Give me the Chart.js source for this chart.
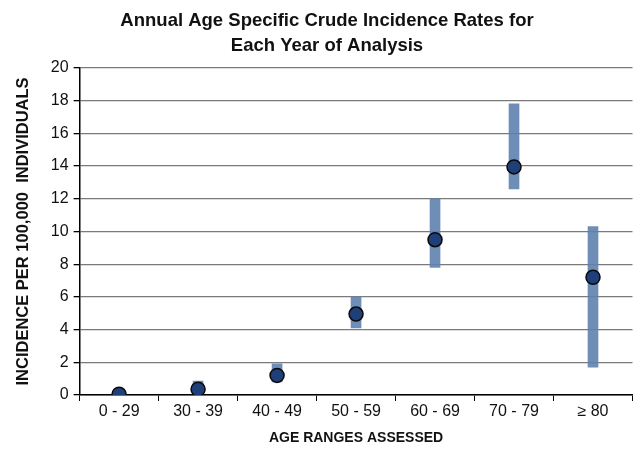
<!DOCTYPE html>
<html>
<head>
<meta charset="utf-8">
<script src="https://cdn.jsdelivr.net/npm/chart.js@4"></script>
<style>
  html, body { margin: 0; padding: 0; background: #fff; }
  #wrap { width: 641px; height: 450px; }
</style>
</head>
<body>
<div id="wrap"><canvas id="rateChart" width="641" height="450"></canvas></div>
<script>
// age groups and rates (per 100,000)
const ageLabels = ['0 - 29', '30 - 39', '40 - 49', '50 - 59', '60 - 69', '70 - 79', '\u2265 80'];
const crudeRate = [0.05, 0.35, 1.2, 4.95, 9.5, 13.95, 7.2];
const rangeLow  = [0.0, 0.1, 0.8, 4.1, 7.8, 12.6, 1.7];
const rangeHigh = [0.1, 0.85, 1.9, 6.0, 12.0, 17.8, 10.3];
const yTicks = [0, 2, 4, 6, 8, 10, 12, 14, 16, 18, 20];

window.addEventListener('DOMContentLoaded', () => {
  const ctx = document.getElementById('rateChart').getContext('2d');
  const font = 'Liberation Sans, Arial, sans-serif';

  new Chart(ctx, {
    type: 'bar',
    data: {
      labels: ageLabels,
      datasets: [
        {
          type: 'line',
          label: 'Crude rate',
          data: crudeRate,
          showLine: false,
          pointRadius: 7,
          pointHoverRadius: 7,
          pointBackgroundColor: '#1f3f78',
          pointBorderColor: '#0a0a0a',
          pointBorderWidth: 1.5,
          order: 0
        },
        {
          label: 'Range',
          data: rangeLow.map((lo, i) => [lo, rangeHigh[i]]),
          backgroundColor: 'rgba(95,130,175,0.9)',
          barThickness: 10,
          order: 1
        }
      ]
    },
    options: {
      responsive: false,
      animation: false,
      layout: { padding: { left: 14, right: 1, top: 0, bottom: 0 } },
      plugins: {
        legend: { display: false },
        tooltip: { enabled: false },
        title: {
          display: true,
          text: ['Annual Age Specific Crude Incidence Rates for', 'Each Year of Analysis'],
          color: '#111',
          font: { family: font, size: 18.5, weight: 'bold', lineHeight: 1.35 },
          padding: { top: 8, bottom: 10 }
        }
      },
      scales: {
        x: {
          grid: { display: true, drawOnChartArea: false, color: '#000', tickLength: 6, tickColor: '#000' },
          border: { color: '#000', width: 1.5 },
          ticks: { color: '#111', font: { family: font, size: 16 }, padding: 1 },
          title: {
            display: true,
            text: 'AGE RANGES ASSESSED',
            color: '#111',
            font: { family: font, size: 14, weight: 'bold' },
            padding: { top: 8, bottom: 3 }
          }
        },
        y: {
          min: 0,
          max: 20,
          afterBuildTicks: axis => { axis.ticks = yTicks.map(v => ({ value: v })); },
          grid: { color: '#7a7a7a', lineWidth: 1.3, tickLength: 6, tickColor: '#000' },
          border: { color: '#000', width: 1.5 },
          ticks: { color: '#111', font: { family: font, size: 16 }, padding: 5 },
          title: {
            display: true,
            text: 'INCIDENCE PER 100,000  INDIVIDUALS',
            color: '#111',
            font: { family: font, size: 16.5, weight: 'bold' },
            padding: { top: 0, bottom: 12 }
          }
        }
      }
    }
  });
});
</script>
</body>
</html>
